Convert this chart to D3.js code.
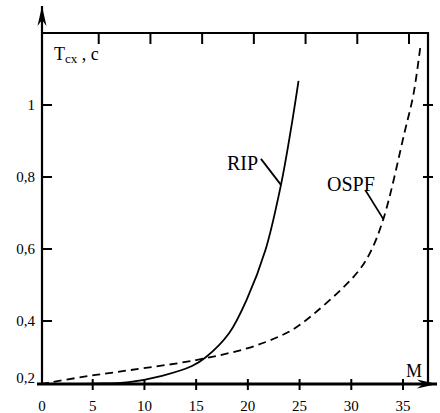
<!DOCTYPE html>
<html>
<head>
<meta charset="utf-8">
<script src="https://cdn.jsdelivr.net/npm/d3@7"></script>
<style>
  body { margin: 0; background: #fff; }
  svg { display: block; font-family: "Liberation Serif", "Times New Roman", serif; }
</style>
</head>
<body>
<script>
// values
var ripM = [0, 5, 8.5, 11.7, 14.6, 15.9, 18.2, 19.9, 21.7, 23.2, 24.15, 24.9];
var ripT = [0.2, 0.201, 0.206, 0.226, 0.257, 0.284, 0.362, 0.46, 0.597, 0.778, 0.93, 1.067];

var ospfM = [0, 0.9, 4.5, 8.6, 15, 20, 23.1, 25, 30.2, 31.7, 33.1, 35.2, 36, 36.66];
var ospfT = [0.2, 0.205, 0.225, 0.244, 0.276, 0.314, 0.352, 0.387, 0.522, 0.583, 0.683, 0.93, 1.028, 1.158];

var xTicks = [0, 5, 10, 15, 20, 25, 30, 35];
var yTicks = [0.2, 0.4, 0.6, 0.8, 1];
var yTickLabels = ["0,2", "0,4", "0,6", "0,8", "1"];

// where the leader lines touch the curves
var ripLabel = { name: "RIP", m: 23.2, t: 0.778 };
var ospfLabel = { name: "OSPF", m: 33.1, t: 0.683 };

var chart = {
    width: 440,
    height: 413,
    left: 42,
    right: 428,
    top: 33,
    bottom: 384,

    setup: function() {
        this.svg = d3.select("body").append("svg")
            .attr("width", this.width)
            .attr("height", this.height);

        this.x = d3.scaleLinear().domain([0, 35]).range([41, 403]);
        // the axis is broken below 0.4, so the bottom step is shorter
        this.y = d3.scaleLinear().domain([0.2, 0.4, 1.2]).range([this.bottom, 321, this.top]);

        var defs = this.svg.append("defs");
        defs.append("marker")
            .attr("id", "arrow")
            .attr("viewBox", "0 0 20 10")
            .attr("refX", 20).attr("refY", 5)
            .attr("markerWidth", 20).attr("markerHeight", 10)
            .attr("markerUnits", "userSpaceOnUse")
            .attr("orient", "auto")
            .append("path")
            .attr("d", "M0,0.5 L20,5 L0,9.5 L6,5 Z")
            .attr("fill", "#000");
    },

    drawFrame: function() {
        var svg = this.svg;
        // top and right sides of the box
        svg.append("path")
            .attr("d", "M" + this.left + "," + this.top + " H" + this.right + " V" + (this.bottom + 2))
            .attr("fill", "none")
            .attr("stroke", "#000")
            .attr("stroke-width", 2.2);

        // y axis with arrow
        svg.append("line")
            .attr("x1", this.left).attr("x2", this.left)
            .attr("y1", this.bottom + 1).attr("y2", 6)
            .attr("stroke", "#000")
            .attr("stroke-width", 2.2)
            .attr("marker-end", "url(#arrow)");

        // x axis with arrow
        svg.append("line")
            .attr("x1", 37).attr("x2", 437)
            .attr("y1", this.bottom).attr("y2", this.bottom)
            .attr("stroke", "#000")
            .attr("stroke-width", 2.8)
            .attr("marker-end", "url(#arrow)");
    },

    drawTicks: function() {
        var svg = this.svg, x = this.x, y = this.y;

        // bottom ticks cross the axis
        svg.selectAll(".xtick").data(xTicks.slice(1)).enter().append("line")
            .attr("x1", d => x(d)).attr("x2", d => x(d))
            .attr("y1", this.bottom - 5).attr("y2", this.bottom + 6)
            .attr("stroke", "#000").attr("stroke-width", 2);

        // top ticks point inward
        svg.selectAll(".ttick").data(xTicks.slice(1)).enter().append("line")
            .attr("x1", d => x(d) + 6).attr("x2", d => x(d) + 6)
            .attr("y1", this.top).attr("y2", this.top + 11)
            .attr("stroke", "#000").attr("stroke-width", 2);

        svg.selectAll(".xlab").data(xTicks).enter().append("text")
            .attr("x", (d, i) => i === 0 ? this.left : x(d))
            .attr("y", 411)
            .attr("text-anchor", "middle")
            .style("font-size", "15px")
            .text(d => d);

        var inner = yTicks.slice(1);
        svg.selectAll(".ltick").data(inner).enter().append("line")
            .attr("x1", this.left).attr("x2", this.left + 10)
            .attr("y1", d => y(d)).attr("y2", d => y(d))
            .attr("stroke", "#000").attr("stroke-width", 2);

        svg.selectAll(".rtick").data(inner).enter().append("line")
            .attr("x1", this.right - 5).attr("x2", this.right + 5)
            .attr("y1", d => y(d)).attr("y2", d => y(d))
            .attr("stroke", "#000").attr("stroke-width", 2);

        svg.selectAll(".ylab").data(yTicks).enter().append("text")
            .attr("x", 35)
            .attr("y", (d, i) => y(d) + (i === 0 ? -1 : 5))
            .attr("text-anchor", "end")
            .style("font-size", "15px")
            .text((d, i) => yTickLabels[i]);

        // axis names
        var t = svg.append("text")
            .attr("x", 54).attr("y", 60)
            .style("font-size", "18px");
        t.append("tspan").text("T");
        t.append("tspan").attr("dy", 3).style("font-size", "13px").text("cx");
        t.append("tspan").attr("dy", -3).text(" , c");

        svg.append("text")
            .attr("x", 406).attr("y", 377)
            .style("font-size", "18px")
            .text("M");
    },

    drawCurves: function() {
        var x = this.x, y = this.y;
        var line = d3.line()
            .x(d => x(d[0]))
            .y(d => y(d[1]))
            .curve(d3.curveCatmullRom.alpha(0.5));

        this.svg.append("path")
            .datum(d3.zip(ripM, ripT))
            .attr("d", line)
            .attr("fill", "none")
            .attr("stroke", "#000")
            .attr("stroke-width", 1.8);

        this.svg.append("path")
            .datum(d3.zip(ospfM, ospfT))
            .attr("d", line)
            .attr("fill", "none")
            .attr("stroke", "#000")
            .attr("stroke-width", 1.8)
            .style("stroke-dasharray", "8,5");
    },

    drawLabels: function() {
        var svg = this.svg, x = this.x, y = this.y;
        [[ripLabel, 20, 26, 227, 170], [ospfLabel, 18, 29, 327, 191]].forEach(function(a) {
            var lab = a[0];
            var px = x(lab.m), py = y(lab.t);
            svg.append("line")
                .attr("x1", px).attr("y1", py)
                .attr("x2", px - a[1]).attr("y2", py - a[2])
                .attr("stroke", "#000").attr("stroke-width", 1.8);
            svg.append("text")
                .attr("x", a[3]).attr("y", a[4])
                .style("font-size", "20px")
                .text(lab.name);
        });
    },

    init: function() {
        this.setup();
        this.drawCurves();
        this.drawFrame();
        this.drawTicks();
        this.drawLabels();
    }
};

chart.init();
</script>
</body>
</html>
